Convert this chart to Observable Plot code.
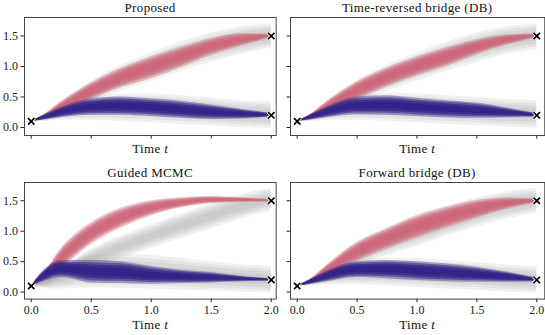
<!DOCTYPE html>
<html><head><meta charset="utf-8">
<script src="https://cdn.jsdelivr.net/npm/d3@7"></script>
<script src="https://cdn.jsdelivr.net/npm/@observablehq/plot@0.6"></script>
<style>
body{margin:0;background:#fff;}
#root{position:relative;width:545px;height:335px;font-family:"Liberation Serif",serif;color:#111;}
.pan{position:absolute;}
.ttl{position:absolute;font-size:13px;letter-spacing:0.35px;text-align:center;white-space:nowrap;font-family:"Liberation Serif",serif;}
</style></head><body><div id="root"></div>
<script>
// time grid (read positions)
const tGrid = [0, 0.1, 0.25, 0.5, 0.75, 1.0, 1.25, 1.5, 1.75, 2.0];
const panelTitles = ["Proposed", "Time-reversed bridge (DB)", "Guided MCMC", "Forward bridge (DB)"];
const xTicks = [0, 0.5, 1, 1.5, 2];
const yTicks = [0, 0.5, 1, 1.5];
const startPoint = [0, 0.1];
const endPoints = [[2, 1.5], [2, 0.2]];

// Proposed
const p1RedLo  = [0.1, 0.13, 0.22, 0.45, 0.65, 0.80, 0.98, 1.18, 1.33, 1.47];
const p1RedHi  = [0.1, 0.20, 0.42, 0.73, 0.97, 1.16, 1.32, 1.46, 1.54, 1.53];
const p1BlueLo = [0.1, 0.12, 0.16, 0.20, 0.20, 0.18, 0.15, 0.13, 0.14, 0.17];
const p1BlueHi = [0.1, 0.20, 0.33, 0.47, 0.50, 0.47, 0.43, 0.37, 0.30, 0.23];
const p1GrayUpLo = [0.1, 0.12, 0.20, 0.42, 0.60, 0.75, 0.92, 1.07, 1.20, 1.30];
const p1GrayUpHi = [0.1, 0.20, 0.43, 0.76, 1.02, 1.22, 1.40, 1.55, 1.65, 1.70];
const p1GrayLoLo = [0.1, 0.10, 0.12, 0.12, 0.10, 0.08, 0.05, 0.03, 0.00, -0.02];
const p1GrayLoHi = [0.1, 0.20, 0.35, 0.50, 0.55, 0.55, 0.52, 0.48, 0.44, 0.42];
// Time-reversed bridge
const p2RedLo  = [0.1, 0.13, 0.22, 0.45, 0.66, 0.84, 1.00, 1.19, 1.35, 1.47];
const p2RedHi  = [0.1, 0.20, 0.43, 0.75, 0.98, 1.16, 1.31, 1.44, 1.52, 1.53];
const p2BlueLo = [0.1, 0.12, 0.16, 0.21, 0.20, 0.18, 0.16, 0.15, 0.16, 0.17];
const p2BlueHi = [0.1, 0.20, 0.34, 0.50, 0.52, 0.48, 0.44, 0.40, 0.32, 0.23];
const p2GrayUpLo = [0.1, 0.12, 0.20, 0.42, 0.60, 0.76, 0.92, 1.07, 1.20, 1.28];
const p2GrayUpHi = [0.1, 0.20, 0.43, 0.77, 1.02, 1.22, 1.40, 1.55, 1.65, 1.70];
const p2GrayLoLo = [0.1, 0.10, 0.12, 0.12, 0.10, 0.08, 0.05, 0.03, 0.01, -0.01];
const p2GrayLoHi = [0.1, 0.20, 0.35, 0.52, 0.56, 0.55, 0.52, 0.49, 0.46, 0.44];
// Guided MCMC
const p3RedLo  = [0.1, 0.17, 0.38, 0.78, 1.05, 1.25, 1.38, 1.45, 1.47, 1.48];
const p3RedHi  = [0.1, 0.30, 0.72, 1.14, 1.38, 1.50, 1.55, 1.57, 1.55, 1.52];
const p3BlueLo = [0.1, 0.17, 0.24, 0.15, 0.14, 0.13, 0.14, 0.15, 0.17, 0.18];
const p3BlueHi = [0.1, 0.35, 0.52, 0.52, 0.50, 0.42, 0.36, 0.32, 0.26, 0.22];
const p3GrayUpLo = [0.1, 0.10, 0.20, 0.40, 0.55, 0.72, 0.88, 1.04, 1.20, 1.33];
const p3GrayUpHi = [0.1, 0.22, 0.40, 0.70, 0.92, 1.10, 1.28, 1.45, 1.60, 1.70];
const p3GrayLoLo = [0.1, 0.06, 0.05, 0.07, 0.06, 0.05, 0.03, 0.02, 0.00, -0.02];
const p3GrayLoHi = [0.1, 0.22, 0.40, 0.60, 0.62, 0.60, 0.55, 0.50, 0.45, 0.42];
// Forward bridge
const p4RedLo  = [0.1, 0.13, 0.25, 0.50, 0.70, 0.88, 1.05, 1.21, 1.36, 1.47];
const p4RedHi  = [0.1, 0.20, 0.45, 0.82, 1.05, 1.26, 1.40, 1.51, 1.55, 1.53];
const p4BlueLo = [0.1, 0.12, 0.17, 0.24, 0.22, 0.19, 0.17, 0.16, 0.16, 0.17];
const p4BlueHi = [0.1, 0.20, 0.35, 0.50, 0.52, 0.50, 0.46, 0.41, 0.33, 0.23];
const p4GrayUpLo = [0.1, 0.12, 0.20, 0.42, 0.60, 0.75, 0.92, 1.07, 1.20, 1.30];
const p4GrayUpHi = [0.1, 0.20, 0.43, 0.77, 1.03, 1.23, 1.40, 1.55, 1.65, 1.70];
const p4GrayLoLo = [0.1, 0.10, 0.12, 0.12, 0.10, 0.08, 0.05, 0.03, 0.00, -0.02];
const p4GrayLoHi = [0.1, 0.20, 0.35, 0.52, 0.56, 0.55, 0.52, 0.48, 0.44, 0.42];

const panels = [
  {red:[p1RedLo,p1RedHi], blue:[p1BlueLo,p1BlueHi], gu:[p1GrayUpLo,p1GrayUpHi], gl:[p1GrayLoLo,p1GrayLoHi]},
  {red:[p2RedLo,p2RedHi], blue:[p2BlueLo,p2BlueHi], gu:[p2GrayUpLo,p2GrayUpHi], gl:[p2GrayLoLo,p2GrayLoHi]},
  {red:[p3RedLo,p3RedHi], blue:[p3BlueLo,p3BlueHi], gu:[p3GrayUpLo,p3GrayUpHi], gl:[p3GrayLoLo,p3GrayLoHi]},
  {red:[p4RedLo,p4RedHi], blue:[p4BlueLo,p4BlueHi], gu:[p4GrayUpLo,p4GrayUpHi], gl:[p4GrayLoLo,p4GrayLoHi]},
];

const RED = "#cc6677", BLUE = "#332288", GRAY = "#a0a0a0";
const root = document.getElementById("root");

function band(lohi, k) {
  return tGrid.map((t, i) => {
    const lo = lohi[0][i], hi = lohi[1][i], m = (lo + hi) / 2, h = (hi - lo) / 2 * k;
    return {t, lo: m - h, hi: m + h};
  });
}

function bandMarks(lohi, color, ops) {
  return ops.map(([k, o]) => Plot.areaY(band(lohi, k), {x: "t", y1: "lo", y2: "hi", fill: color, fillOpacity: o, curve: "monotone-x"}));
}

// frame boxes in pixels: [left, top, right, bottom]
const layout = [
  {box:[24.3, 17.3, 276, 135.3], xd:[-0.056, 2.041], yd:[-0.131, 1.803], xl:false, yl:true},
  {box:[290, 17.3, 544.3, 135.3], xd:[-0.056, 2.067], yd:[-0.131, 1.803], xl:false, yl:false},
  {box:[24.3, 181.7, 276, 298.3], xd:[-0.056, 2.041], yd:[-0.115, 1.800], xl:true, yl:true},
  {box:[290, 181.7, 544.3, 298.3], xd:[-0.056, 2.067], yd:[-0.115, 1.800], xl:true, yl:false},
];

const grayOps = [[1, 0.16], [0.8, 0.16], [0.6, 0.18], [0.35, 0.2]];
const redOps  = [[1, 0.38], [0.8, 0.5], [0.6, 0.6], [0.35, 0.75]];
const blueOps = [[1, 0.4], [0.8, 0.55], [0.6, 0.7], [0.35, 0.85]];

panels.forEach((p, i) => {
  const L = layout[i];
  const [l, tp, r, b] = L.box;
  const mL = 30, mR = 2, mT = 4, mB = 24;
  const left = l - mL, top = tp - mT;
  const w = (r - l) + mL + mR, h = (b - tp) + mT + mB;
  const svg = Plot.plot({
    width: w, height: h,
    marginLeft: mL, marginRight: mR, marginTop: mT, marginBottom: mB,
    style: {fontFamily: '"Liberation Serif",serif', fontSize: "12px", color: "#222", background: "transparent", overflow: "visible"},
    x: {domain: L.xd, ticks: xTicks, tickSize: 3.5, tickPadding: 3, tickFormat: L.xl ? d3.format(".1f") : () => "", label: null},
    y: {domain: L.yd, ticks: yTicks, tickSize: 3.5, tickPadding: 3, tickFormat: L.yl ? d3.format(".1f") : () => "", label: null},
    marks: [
      ...bandMarks(p.gl, GRAY, grayOps),
      ...bandMarks(p.gu, GRAY, grayOps),
      ...bandMarks(p.red, RED, redOps),
      ...bandMarks(p.blue, BLUE, blueOps),
      Plot.frame({stroke: "#333", strokeWidth: 0.9}),
      Plot.dot([startPoint, ...endPoints], {x: d => d[0], y: d => d[1], symbol: "times", r: 3, stroke: "white", strokeWidth: 3.5}),
      Plot.dot([startPoint, ...endPoints], {x: d => d[0], y: d => d[1], symbol: "times", r: 3, stroke: "black", strokeWidth: 1.7}),
    ]
  });
  svg.classList.add("pan");
  svg.style.left = left + "px";
  svg.style.top = top + "px";
  root.appendChild(svg);

  const cx = (l + r) / 2;
  const t = document.createElement("div");
  t.className = "ttl";
  t.textContent = panelTitles[i];
  t.style.left = (cx - 100) + "px"; t.style.width = "200px";
  t.style.top = (tp - 17) + "px";
  root.appendChild(t);

  const xl = document.createElement("div");
  xl.className = "ttl";
  xl.innerHTML = "Time <i>t</i>";
  xl.style.left = (cx - 100) + "px"; xl.style.width = "200px";
  xl.style.top = (b + (L.xl ? 19 : 6)) + "px";
  root.appendChild(xl);
});
</script></body></html>
